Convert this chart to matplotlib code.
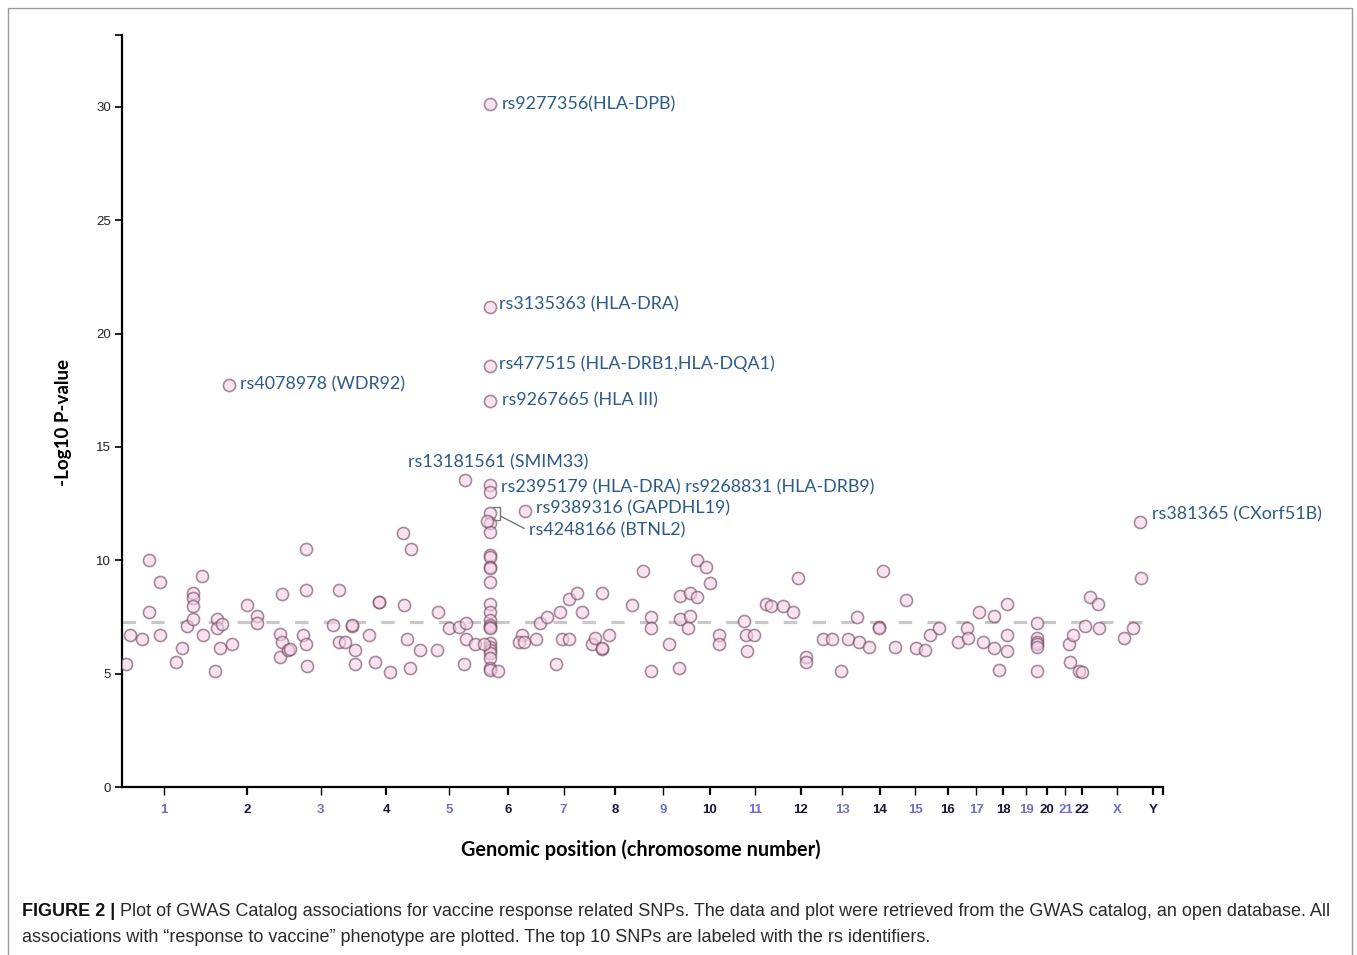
import matplotlib
matplotlib.use("Agg")
import matplotlib.pyplot as plt
from matplotlib.lines import Line2D
from matplotlib.patches import Rectangle
from matplotlib import font_manager as fm
import numpy as np

# ---------------- data ----------------
chrom_names = ['1', '2', '3', '4', '5', '6', '7', '8', '9', '10', '11', '12', '13',
               '14', '15', '16', '17', '18', '19', '20', '21', '22', 'X', 'Y']
chrom_len_mb = [249.25, 243.2, 198.0, 191.2, 180.9, 171.1, 159.1, 146.4, 141.2, 135.5,
                135.0, 133.9, 115.2, 107.3, 102.5, 90.4, 81.2, 78.1, 59.1, 63.0,
                48.1, 51.3, 155.3, 59.4]

# SNP positions (Mb within chromosome) and -log10 P values, per chromosome
snp_pos = {
    '1': [12, 24, 60, 80, 80, 113, 113, 161, 179, 192, 210, 210, 210, 210, 238, 242],
    '2': [28, 33, 34, 47, 42, 69, 77, 122, 151, 151, 221, 228, 228, 220],
    '3': [2, 7, 55, 55, 47, 55, 57, 154, 136, 154, 171, 192, 192],
    '4': [2, 2, 43, 63, 75, 75, 106, 146, 148, 168, 156, 166],
    '5': [4, 59, 56, 92, 121, 140, 140, 136, 138, 168],
    '6': [32, 32, 32, 32, 32, 32, 32, 32, 32, 32, 32, 32, 32, 32, 32, 32, 32, 32,
          32, 32, 32, 32, 32, 32, 32, 32, 32, 22, 14, 56, 126, 118, 134, 136, 168],
    '7': [9, 29, 56, 69, 75, 96, 95, 120, 135],
    '8': [4, 14, 34, 34, 34, 56, 124],
    '9': [9, 34, 34, 34, 88, 118, 120, 121],
    '10': [2, 10, 10, 29, 29, 55, 68, 95, 95],
    '11': [34, 39, 42, 63, 99, 113],
    '12': [14, 45, 58, 83, 83, 133],
    '13': [27, 52, 75, 100, 107],
    '14': [21, 52, 52, 62, 98],
    '15': [24, 54, 80, 95],
    '16': [21, 77],
    '17': [12, 16, 48, 61],
    '18': [12, 12, 27, 49, 49, 49],
    '20': [2, 2, 2, 2, 2, 2],
    '21': [34, 45, 37],
    '22': [17, 24, 34, 49],
    'X': [22, 24, 99, 125, 149, 146],
}
snp_logp = {
    '1': [5.41, 6.70, 6.53, 10.0, 7.70, 9.04, 6.70, 5.53, 6.12, 7.10, 8.57, 8.32, 8.00, 7.41, 9.31, 6.70],
    '2': [5.12, 7.41, 7.00, 7.18, 6.12, 17.73, 6.32, 8.01, 7.54, 7.22, 6.73, 8.51, 6.41, 5.72],
    '3': [6.04, 6.09, 10.51, 8.69, 6.70, 6.31, 5.32, 8.69, 7.15, 6.41, 6.40, 7.12, 7.14],
    '4': [6.06, 5.43, 6.70, 5.53, 8.16, 8.18, 5.06, 11.22, 8.01, 10.51, 6.53, 5.24],
    '5': [6.04, 7.70, 6.04, 7.00, 7.04, 7.23, 6.53, 5.41, 13.54, 6.29],
    '6': [30.12, 21.19, 18.57, 17.04, 13.32, 13.03, 12.07, 11.63, 11.26, 10.22, 10.16, 9.72,
          9.68, 9.06, 8.07, 7.73, 7.37, 7.15, 7.07, 7.00, 6.37, 6.19, 6.04, 5.90, 5.68, 5.24,
          5.16, 11.73, 6.30, 5.13, 6.70, 6.41, 6.41, 12.19, 6.53],
    '7': [7.22, 7.51, 5.41, 7.70, 6.53, 6.53, 8.29, 8.54, 7.70],
    '8': [6.31, 6.56, 6.09, 6.11, 8.54, 6.70, 8.01],
    '9': [9.53, 7.51, 7.00, 5.12, 6.31, 5.24, 8.41, 7.41],
    '10': [7.00, 8.54, 7.54, 8.40, 10.01, 9.71, 9.01, 6.70, 6.31],
    '11': [7.34, 6.70, 6.01, 6.70, 8.07, 8.00],
    '12': [8.00, 7.70, 9.23, 5.75, 5.53, 6.53],
    '13': [6.53, 5.12, 6.53, 7.51, 6.41],
    '14': [6.18, 7.07, 7.00, 9.53, 6.18],
    '15': [8.23, 6.12, 6.04, 6.72],
    '16': [7.03, 6.41],
    '17': [7.03, 6.56, 7.70, 6.41],
    '18': [7.54, 6.12, 5.16, 8.06, 6.70, 6.01],
    '20': [7.25, 6.56, 6.41, 6.29, 6.19, 5.12],
    '21': [6.31, 6.72, 5.53],
    '22': [5.12, 5.09, 7.10, 8.40],
    'X': [8.06, 7.03, 6.56, 7.01, 9.23, 11.70],
}

label_chrom = ['6', '6', '6', '6', '2', '5', '6', '6', '6', 'X']
label_pos = [32, 32, 32, 32, 69, 138, 32, 136, 32, 146]
label_logp = [30.12, 21.19, 18.57, 17.04, 17.73, 13.54, 13.32, 12.19, 12.07, 11.70]
label_text = ['rs9277356(HLA-DPB)', 'rs3135363 (HLA-DRA)', 'rs477515 (HLA-DRB1,HLA-DQA1)',
              'rs9267665 (HLA III)', 'rs4078978 (WDR92)', 'rs13181561 (SMIM33)',
              'rs2395179 (HLA-DRA) rs9268831 (HLA-DRB9)', 'rs9389316 (GAPDHL19)',
              'rs4248166 (BTNL2)', 'rs381365 (CXorf51B)']

threshold = 7.3
y_ticks = [0, 5, 10, 15, 20, 25, 30]
y_label = '-Log10 P-value'
x_label = 'Genomic position (chromosome number)'
caption_bold = 'FIGURE 2 |'
caption_line1 = ('Plot of GWAS Catalog associations for vaccine response related SNPs. The data and plot '
                 'were retrieved from the GWAS catalog, an open database. All')
caption_line2 = ('associations with \u201cresponse to vaccine\u201d phenotype are plotted. '
                 'The top 10 SNPs are labeled with the rs identifiers.')

# ---------------- helpers ----------------
def has_font(name):
    try:
        fm.findfont(fm.FontProperties(family=name), fallback_to_default=False)
        return True
    except Exception:
        return False

cap_family = 'Liberation Sans Narrow' if has_font('Liberation Sans Narrow') else 'Liberation Sans'
lab_family = 'Lato' if has_font('Lato') else 'DejaVu Sans'

W, H = 1357, 955
offsets = np.concatenate([[0.0], np.cumsum(chrom_len_mb)[:-1]])
chrom_start = dict(zip(chrom_names, offsets))
centers = offsets + np.array(chrom_len_mb) / 2.0
genome_len = float(np.sum(chrom_len_mb))

xs, ys = [], []
for c in chrom_names:
    for p, v in zip(snp_pos.get(c, []), snp_logp.get(c, [])):
        xs.append(chrom_start[c] + p)
        ys.append(v)

fig = plt.figure(figsize=(W / 100, H / 100), dpi=100)
fig.patch.set_facecolor('white')
ax = fig.add_axes([122 / W, 168 / H, 1041 / W, 752 / H])
ax.set_xlim(0, genome_len)
ax.set_ylim(0, 752 / 22.67)

ax.scatter(xs, ys, s=76, facecolor=(0.97, 0.82, 0.91, 0.6),
           edgecolor=(0.42, 0.27, 0.36, 0.6), linewidth=1.2, zorder=3)

ax.axhline(threshold, xmin=0, xmax=(1155 - 122) / 1041, color='#c8c8c8', lw=2.3,
           dashes=(4.2, 4.8), zorder=1)

for s in ['top', 'right']:
    ax.spines[s].set_visible(False)
for s in ['left', 'bottom']:
    ax.spines[s].set_linewidth(1.6)
    ax.spines[s].set_color('black')

# y ticks
ax.set_yticks(y_ticks)
ax.set_yticklabels([str(v) for v in y_ticks], fontsize=9.5, family='Liberation Sans', color='#222222')
ax.tick_params(axis='y', which='major', length=5, width=1.2, pad=3, direction='out')
ax.set_yticks([752 / 22.67], minor=True)
ax.tick_params(axis='y', which='minor', length=5, width=1.2)

# x ticks
ax.set_xticks(centers)
ax.set_xticklabels(chrom_names, fontsize=9.5, fontweight='bold', family='Liberation Sans')
ax.tick_params(axis='x', which='major', length=6, pad=6, direction='out')
for i, (lbl, tk) in enumerate(zip(ax.get_xticklabels(), ax.xaxis.get_major_ticks())):
    odd = (i % 2 == 0)
    lbl.set_color('#6f6fc4' if odd else '#16163c')
    tk.tick1line.set_color('#8a8a8a' if odd else 'black')
    tk.tick1line.set_markeredgewidth(1.0 if odd else 1.6)
ax.set_xticks([genome_len], minor=True)
ax.tick_params(axis='x', which='minor', length=6, width=1.6)

# annotations
label_offsets = [(12, 0), (9, 2), (9, 2), (12, 0), (11, 1), (-57, 18), (11, -2), (11, 2), (39, -17), (12, 7)]
for c, p, v, t, (dx, dy) in zip(label_chrom, label_pos, label_logp, label_text, label_offsets):
    ax.annotate(t, (chrom_start[c] + p, v), xytext=(dx, dy), textcoords='offset pixels',
                ha='left', va='center', fontsize=12.9, family=lab_family, color='#2c5a89', zorder=4)

# bracket + leader for BTNL2 label (in pixel offsets from the point)
bi = label_text.index('rs4248166 (BTNL2)')
ax_pt = ax.transData.transform((chrom_start[label_chrom[bi]] + label_pos[bi], label_logp[bi]))
bx = np.array([3, 10, 10, 3]) + ax_pt[0]
by = np.array([6, 6, -7, -7]) + ax_pt[1]
fig.add_artist(Line2D(bx, by, transform=None, color='#777777', lw=1.0))
fig.add_artist(Line2D(np.array([11, 34]) + ax_pt[0], np.array([-3, -15]) + ax_pt[1],
                      transform=None, color='#777777', lw=1.0))

# axis labels
fig.text(63 / W, 1 - 422 / H, y_label, rotation=90, ha='center', va='center',
         fontsize=13.5, fontweight='bold', family=lab_family, color='black')
fig.text(641 / W, 1 - 850 / H, x_label, ha='center', va='center',
         fontsize=14.3, fontweight='bold', family=lab_family, color='black')

# caption
renderer = fig.canvas.get_renderer()
cap_size = 12
tb = fig.text(22 / W, 1 - 911 / H, caption_bold, ha='left', va='center', fontsize=cap_size,
              fontweight='bold', family=cap_family, color='#111111')
t1 = fig.text(0, 1 - 911 / H, ' ' + caption_line1, ha='left', va='center', fontsize=cap_size,
              family=cap_family, color='#2a2a2a')
wb = tb.get_window_extent(renderer).width
w1 = t1.get_window_extent(renderer).width
scale = (1334 - 22) / (wb + w1)
cap_size = cap_size * scale
tb.set_fontsize(cap_size)
t1.set_fontsize(cap_size)
wb = tb.get_window_extent(renderer).width
t1.set_x((22 + wb) / W)
fig.text(22 / W, 1 - 937 / H, caption_line2, ha='left', va='center', fontsize=cap_size,
         family=cap_family, color='#2a2a2a')

# outer frame
fig.add_artist(Rectangle((8 / W, -0.01), (1352 - 8) / W, 1 - 8 / H + 0.01, transform=fig.transFigure,
                         fill=False, edgecolor='#9a9a9a', lw=1.0))

fig.savefig('out.png', dpi=100, facecolor='white')
